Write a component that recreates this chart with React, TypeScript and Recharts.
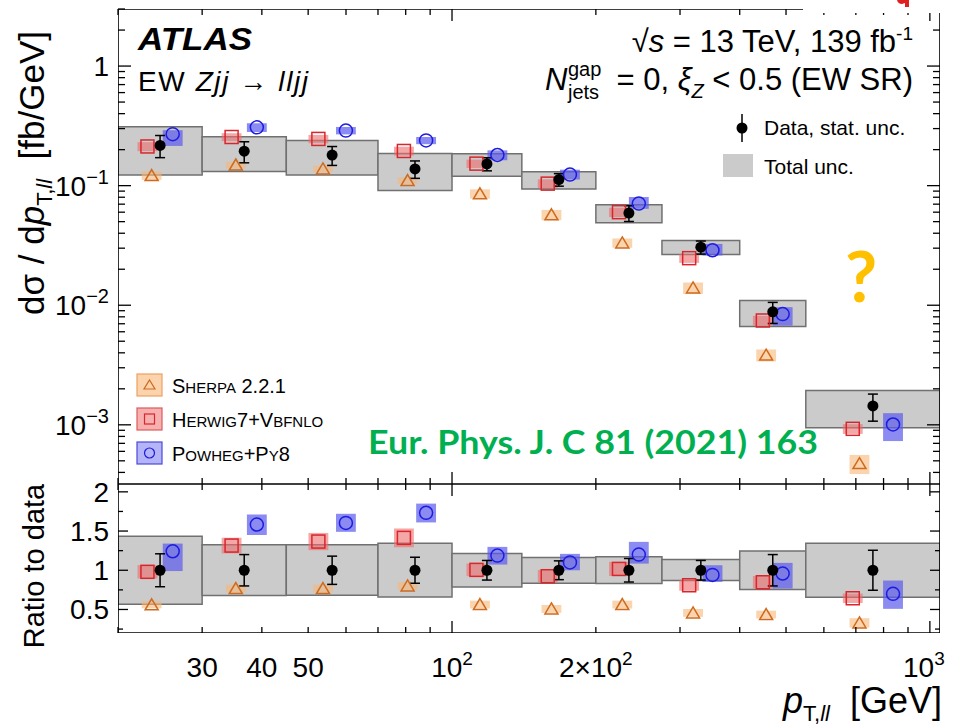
import React from "react";
import { ScatterChart, Scatter, XAxis, YAxis, ReferenceArea, ErrorBar } from "recharts";

// pT,ll bin edges [GeV]
const binEdges = [20, 30, 45, 70, 100, 140, 200, 275, 400, 550, 1050];
// measured cross-section [fb/GeV]
const dataXsec = [0.217, 0.194, 0.18, 0.138, 0.152, 0.1125, 0.059, 0.0306, 0.0088, 0.00144];
// relative stat. unc. of data
const dataStat = [0.21, 0.2, 0.18, 0.166, 0.125, 0.12, 0.15, 0.125, 0.2, 0.255];
// total unc. band, as ratio to data
const totalUp = [1.434, 1.324, 1.324, 1.344, 1.213, 1.162, 1.171, 1.136, 1.247, 1.344];
const totalDown = [0.566, 0.677, 0.681, 0.66, 0.788, 0.834, 0.83, 0.869, 0.754, 0.656];

// predictions / data
const sherpaRatio = [0.56, 0.767, 0.767, 0.8, 0.5625, 0.507, 0.5625, 0.456, 0.435, 0.329];
const sherpaUnc = [0.045, 0.05, 0.05, 0.05, 0.05, 0.05, 0.05, 0.05, 0.05, 0.06];
const herwigRatio = [0.98, 1.315, 1.366, 1.413, 1.005, 0.924, 1.017, 0.809, 0.847, 0.643];
const herwigUnc = [0.085, 0.1, 0.11, 0.12, 0.08, 0.08, 0.09, 0.07, 0.08, 0.06];
const powhegRatio = [1.242, 1.583, 1.604, 1.732, 1.1875, 1.1, 1.2, 0.941, 0.958, 0.699];
const powhegUp = [1.34, 1.71, 1.72, 1.85, 1.298, 1.209, 1.362, 1.064, 1.094, 0.869];
const powhegDown = [0.99, 1.45, 1.49, 1.61, 1.073, 1.0, 1.085, 0.852, 0.767, 0.508];

const xTicks = [20, 30, 40, 50, 60, 70, 80, 90, 100, 200, 300, 400, 500, 600, 700, 800, 900, 1000];
const yTicksTop = [
  4e-4, 5e-4, 6e-4, 7e-4, 8e-4, 9e-4, 1e-3, 2e-3, 3e-3, 4e-3, 5e-3, 6e-3, 7e-3, 8e-3, 9e-3,
  1e-2, 2e-2, 3e-2, 4e-2, 5e-2, 6e-2, 7e-2, 8e-2, 9e-2, 0.1, 0.2, 0.3, 0.4, 0.5, 0.6, 0.7, 0.8, 0.9, 1, 2, 3,
];
const yTicksRatio = [0.25, 0.5, 0.75, 1, 1.25, 1.5, 1.75, 2];

const FONT = "'Liberation Sans', Arial, Helvetica, sans-serif";
const PLOT_W = 822;
const TOP_H = 475;
const RATIO_H = 149;
const BOX_HALF = 1.049; // model boxes ~20px wide on the log axis

const bins = dataXsec.map((v, i) => {
  const lo = binEdges[i];
  const hi = binEdges[i + 1];
  return { lo, hi, c: Math.sqrt(lo * hi), w: hi / lo, v };
});
const posIn = (i: number, f: number) => bins[i].c * Math.pow(bins[i].w, f);

const models = [
  {
    key: "sherpa", off: -0.1, box: "#f7b77a", boxOp: 0.6, line: "#cf6a1c",
    ratio: sherpaRatio, up: sherpaRatio.map((r, i) => r + sherpaUnc[i]), down: sherpaRatio.map((r, i) => r - sherpaUnc[i]),
  },
  {
    key: "herwig", off: -0.15, box: "#ee6a6a", boxOp: 0.6, line: "#d9262c",
    ratio: herwigRatio, up: herwigRatio.map((r, i) => r + herwigUnc[i]), down: herwigRatio.map((r, i) => r - herwigUnc[i]),
  },
  {
    key: "powheg", off: 0.15, box: "#5a5aeb", boxOp: 0.7, line: "#1c1ce0",
    ratio: powhegRatio, up: powhegUp, down: powhegDown,
  },
];

function marker(key: string, cx: number, cy: number, color: string) {
  if (key === "sherpa")
    return <path d={`M${cx},${cy - 6} L${cx + 6.5},${cy + 5} L${cx - 6.5},${cy + 5} Z`} fill="none" stroke={color} strokeWidth={1.5} />;
  if (key === "herwig")
    return <rect x={cx - 6.5} y={cy - 6.5} width={13} height={13} fill="none" stroke={color} strokeWidth={1.5} />;
  return <circle cx={cx} cy={cy} r={6.5} fill="none" stroke={color} strokeWidth={1.5} />;
}

function xLabel(v: number, x: number, y: number) {
  const base = { x, y, textAnchor: "middle" as const, fontSize: 28, fontFamily: FONT, fill: "#000" };
  if (v === 30 || v === 40 || v === 50) return <text {...base}>{v}</text>;
  if (v === 100)
    return (
      <text {...base}>
        10<tspan dy={-12} fontSize={19}>2</tspan>
      </text>
    );
  if (v === 200)
    return (
      <text {...base}>
        2×10<tspan dy={-12} fontSize={19}>2</tspan>
      </text>
    );
  if (v === 1000)
    return (
      <text {...base} x={x - 6}>
        10<tspan dy={-12} fontSize={19}>3</tspan>
      </text>
    );
  return null;
}

function XTick(props: any) {
  const { x, y, payload, plotH, withLabels } = props;
  const v = payload.value;
  const len = v === 100 || v === 1000 ? 12 : 6;
  return (
    <g>
      <line x1={x} x2={x} y1={y} y2={y - len} stroke="#000" strokeWidth={1.3} />
      <line x1={x} x2={x} y1={y - plotH} y2={y - plotH + len} stroke="#000" strokeWidth={1.3} />
      {withLabels ? xLabel(v, x, y + 44) : null}
    </g>
  );
}

function YTick(props: any) {
  const { x, y, payload, ratio } = props;
  const v = payload.value;
  let major: boolean;
  let label: any = null;
  const base = { x: x - 9, y: y + 10, textAnchor: "end" as const, fontSize: 28, fontFamily: FONT, fill: "#000" };
  if (ratio) {
    major = v === 0.5 || v === 1 || v === 1.5 || v === 2;
    if (major) label = <text {...base}>{String(v)}</text>;
  } else {
    const e = Math.log10(v);
    major = Math.abs(e - Math.round(e)) < 1e-6;
    if (major) {
      const n = Math.round(e);
      label =
        n === 0 ? (
          <text {...base}>1</text>
        ) : (
          <text {...base}>
            10<tspan dy={-12} fontSize={20}>{"\u2212" + Math.abs(n)}</tspan>
          </text>
        );
    }
  }
  const len = major ? (ratio ? 10 : 13) : ratio ? 5 : 7;
  return (
    <g>
      <line x1={x} x2={x + len} y1={y} y2={y} stroke="#000" strokeWidth={1.3} />
      <line x1={x + PLOT_W} x2={x + PLOT_W - len} y1={y} y2={y} stroke="#000" strokeWidth={1.3} />
      {label}
    </g>
  );
}

function panelContent(top: boolean) {
  const k = (i: number) => (top ? bins[i].v : 1);
  const out: any[] = [];
  bins.forEach((b, i) => {
    out.push(
      <ReferenceArea
        key={`tot${i}`}
        x1={b.lo}
        x2={b.hi}
        y1={k(i) * totalDown[i]}
        y2={k(i) * totalUp[i]}
        fill="#cbcbcb"
        fillOpacity={1}
        stroke="#707070"
        strokeWidth={1.5}
        ifOverflow="hidden"
      />
    );
  });
  models.forEach((m) => {
    bins.forEach((b, i) => {
      const x = posIn(i, m.off);
      out.push(
        <ReferenceArea
          key={`${m.key}box${i}`}
          x1={x / BOX_HALF}
          x2={x * BOX_HALF}
          y1={k(i) * m.down[i]}
          y2={k(i) * m.up[i]}
          fill={m.box}
          fillOpacity={m.boxOp}
          stroke="none"
          ifOverflow="hidden"
        />
      );
    });
  });
  models.forEach((m) => {
    const pts = bins.map((b, i) => ({ x: posIn(i, m.off), y: k(i) * m.ratio[i] }));
    out.push(
      <Scatter
        key={`${m.key}pts`}
        data={pts}
        dataKey="y"
        isAnimationActive={false}
        shape={(p: any) => marker(m.key, p.cx, p.cy, m.line)}
      />
    );
  });
  const dataPts = bins.map((b, i) => ({
    x: b.c,
    y: k(i),
    err: [k(i) * dataStat[i], k(i) * dataStat[i]],
  }));
  out.push(
    <Scatter
      key="data"
      data={dataPts}
      dataKey="y"
      isAnimationActive={false}
      shape={(p: any) => <circle cx={p.cx} cy={p.cy} r={5.5} fill="#000" />}
    >
      <ErrorBar dataKey="err" direction="y" width={5} stroke="#000" strokeWidth={1.5} />
    </Scatter>
  );
  return out;
}

function TopPanel() {
  return (
    <ScatterChart width={953} height={490} margin={{ top: 9, right: 13, bottom: 0, left: 0 }}>
      <XAxis
        dataKey="x"
        type="number"
        scale="log"
        domain={[20, 1050]}
        allowDataOverflow
        ticks={xTicks}
        interval={0}
        height={6}
        tickSize={0}
        tickMargin={0}
        tickLine={false}
        axisLine={false}
        tick={(p: any) => <XTick {...p} plotH={TOP_H} withLabels={false} />}
      />
      <YAxis
        dataKey="y"
        type="number"
        scale="log"
        domain={[3.2e-4, 3]}
        allowDataOverflow
        ticks={yTicksTop}
        interval={0}
        width={118}
        tickSize={0}
        tickMargin={0}
        tickLine={false}
        axisLine={false}
        tick={(p: any) => <YTick {...p} ratio={false} />}
      />
      {panelContent(true)}
      <ReferenceArea x1={20} x2={1050} y1={3.2e-4} y2={3} fill="none" stroke="#000" strokeWidth={1.6} ifOverflow="hidden" />
    </ScatterChart>
  );
}

function RatioPanel() {
  return (
    <ScatterChart width={953} height={255} margin={{ top: 14, right: 13, bottom: 0, left: 0 }}>
      <XAxis
        dataKey="x"
        type="number"
        scale="log"
        domain={[20, 1050]}
        allowDataOverflow
        ticks={xTicks}
        interval={0}
        height={92}
        tickSize={0}
        tickMargin={0}
        tickLine={false}
        axisLine={false}
        tick={(p: any) => <XTick {...p} plotH={RATIO_H} withLabels={true} />}
      />
      <YAxis
        dataKey="y"
        type="number"
        domain={[0.2, 2.1]}
        allowDataOverflow
        ticks={yTicksRatio}
        interval={0}
        width={118}
        tickSize={0}
        tickMargin={0}
        tickLine={false}
        axisLine={false}
        tick={(p: any) => <YTick {...p} ratio={true} />}
      />
      {panelContent(false)}
      <ReferenceArea x1={20} x2={1050} y1={0.2} y2={2.1} fill="none" stroke="#000" strokeWidth={1.6} ifOverflow="hidden" />
    </ScatterChart>
  );
}

function SmallCaps({ parts, x, y }: { parts: [string, boolean][]; x: number; y: number }) {
  return (
    <text x={x} y={y} fontFamily={FONT} fill="#000">
      {parts.map(([t, big], i) => (
        <tspan key={i} fontSize={big ? 20 : 15}>
          {t}
        </tspan>
      ))}
    </text>
  );
}

function Annotations() {
  const legendRows = [
    { key: "sherpa", y: 385, fill: "#fbd3ad", stroke: "#eea060", line: "#cf6a1c",
      parts: [["S", true], ["HERPA", false], [" 2.2.1", true]] as [string, boolean][] },
    { key: "herwig", y: 419, fill: "#f6b0b0", stroke: "#de5a5a", line: "#d9262c",
      parts: [["H", true], ["ERWIG", false], ["7+V", true], ["BFNLO", false]] as [string, boolean][] },
    { key: "powheg", y: 453, fill: "#b4b4f6", stroke: "#4a4ae0", line: "#1c1ce0",
      parts: [["P", true], ["OWHEG", false], ["+P", true], ["Y", false], ["8", true]] as [string, boolean][] },
  ];
  return (
    <svg width={953} height={725} style={{ position: "absolute", left: 0, top: 0, pointerEvents: "none" }}>
      {/* slide overlay at top right, with the cut-off red glyph from above */}
      <rect x={803} y={0} width={150} height={13} fill="#fff" />
      <path d="M897,0 Q898,4 902,4 L905,3 L905,7 L909,7 L909,0 Z" fill="#e02020" />

      <text x={138} y={50} fontSize={31} fontWeight="bold" fontStyle="italic" fontFamily={FONT} textLength={114} lengthAdjust="spacingAndGlyphs">
        ATLAS
      </text>
      <text x={138} y={91} fontSize={28} fontFamily={FONT} textLength={170} lengthAdjust="spacing">
        EW <tspan fontStyle="italic">Zjj</tspan> → <tspan fontStyle="italic">lljj</tspan>
      </text>

      <text x={913} y={52} fontSize={31} fontFamily={FONT} textAnchor="end">
        √<tspan fontStyle="italic">s</tspan> = 13 TeV, 139 fb<tspan dy={-12} fontSize={19}>-1</tspan>
      </text>
      <text x={545} y={90} fontSize={31} fontStyle="italic" fontFamily={FONT}>N</text>
      <text x={568} y={76} fontSize={20} fontFamily={FONT}>gap</text>
      <text x={568} y={99} fontSize={20} fontFamily={FONT}>jets</text>
      <text x={913} y={90} fontSize={31} fontFamily={FONT} textAnchor="end">
        = 0, <tspan fontStyle="italic">ξ</tspan>
        <tspan dy={8} fontSize={20} fontStyle="italic">Z</tspan>
        <tspan dy={-8}> &lt; 0.5 (EW SR)</tspan>
      </text>

      <line x1={742} x2={742} y1={114} y2={142} stroke="#000" strokeWidth={1.5} />
      <circle cx={742} cy={128} r={5.5} fill="#000" />
      <text x={764} y={135} fontSize={21} fontFamily={FONT}>Data, stat. unc.</text>
      <rect x={723} y={154} width={30} height={23} fill="#cbcbcb" />
      <text x={764} y={174} fontSize={21} fontFamily={FONT}>Total unc.</text>

      {legendRows.map((r) => (
        <g key={r.key}>
          <rect x={137} y={r.y - 11} width={25} height={22} fill={r.fill} stroke={r.stroke} strokeWidth={1.2} />
          {r.key === "sherpa" ? (
            <path d={`M149.5,${r.y - 5} L155,${r.y + 4} L144,${r.y + 4} Z`} fill="none" stroke={r.line} strokeWidth={1.2} />
          ) : r.key === "herwig" ? (
            <rect x={144.5} y={r.y - 5} width={10} height={10} fill="none" stroke={r.line} strokeWidth={1.2} />
          ) : (
            <circle cx={149.5} cy={r.y} r={5} fill="none" stroke={r.line} strokeWidth={1.2} />
          )}
          <SmallCaps parts={r.parts} x={172} y={r.y + 8} />
        </g>
      ))}

      <text x={368} y={454} fontSize={33} fontWeight="bold" fontFamily="Lato, 'Open Sans', sans-serif" fill="#00b050" textLength={450} lengthAdjust="spacingAndGlyphs">
        Eur. Phys. J. C 81 (2021) 163
      </text>
      <text x={861} y={302} fontSize={70} fontWeight="bold" fontFamily="Lato, 'Open Sans', sans-serif" fill="#ffc000" textAnchor="middle">
        ?
      </text>

      <text transform="rotate(-90 44 173)" x={44} y={173} fontSize={35} fontFamily={FONT} textAnchor="middle">
        dσ / d<tspan fontStyle="italic">p</tspan>
        <tspan dy={8} fontSize={22}>T,</tspan>
        <tspan fontSize={22} fontStyle="italic">ll</tspan>
        <tspan dy={-8}>{"\u00a0\u00a0[fb/GeV]"}</tspan>
      </text>
      <text transform="rotate(-90 44 566)" x={44} y={566} fontSize={29} fontFamily={FONT} textAnchor="middle">
        Ratio to data
      </text>
      <text x={942} y={713} fontSize={36} fontFamily={FONT} textAnchor="end">
        <tspan fontStyle="italic">p</tspan>
        <tspan dy={8} fontSize={22}>T,</tspan>
        <tspan fontSize={22} fontStyle="italic">ll</tspan>
        <tspan dy={-8}>{"\u00a0\u00a0[GeV]"}</tspan>
      </text>
    </svg>
  );
}

export default function App() {
  return (
    <div style={{ position: "absolute", left: 0, top: 0, width: 953, height: 725, background: "#fff", overflow: "hidden" }}>
      <div style={{ position: "absolute", left: 0, top: 0 }}>
        <TopPanel />
      </div>
      <div style={{ position: "absolute", left: 0, top: 470 }}>
        <RatioPanel />
      </div>
      <Annotations />
    </div>
  );
}
